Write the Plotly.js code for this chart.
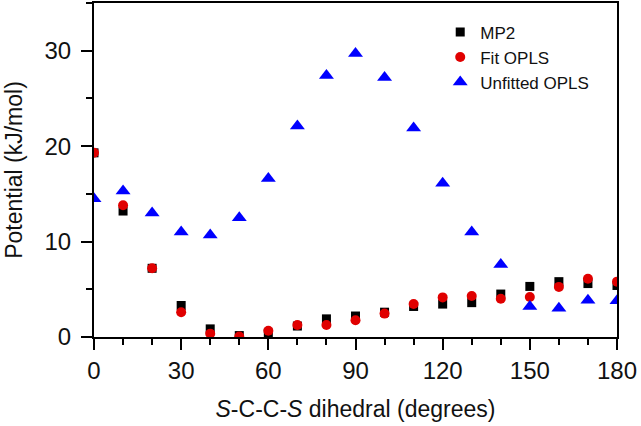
<!DOCTYPE html>
<html>
<head>
<meta charset="utf-8">
<script src="https://cdn.plot.ly/plotly-3.0.1.min.js"></script>
<style>html,body{margin:0;padding:0;background:#fff;}#chart{width:641px;height:426px;}</style>
</head>
<body>
<div id="chart"></div>
<script>
const dihedral = [0,10,20,30,40,50,60,70,80,90,100,110,120,130,140,150,160,170,180];
const mp2 = [19.3,13.2,7.2,3.3,0.85,0.15,0.4,1.15,1.9,2.2,2.6,3.2,3.45,3.6,4.5,5.3,5.8,5.6,5.4];
const fitOpls = [19.3,13.8,7.2,2.6,0.35,0.05,0.65,1.25,1.25,1.75,2.45,3.45,4.15,4.3,4.0,4.2,5.25,6.1,5.8];
const unfittedOpls = [14.5,15.3,13.0,11.0,10.7,12.5,16.6,22.1,27.4,29.7,27.2,21.9,16.1,11.0,7.6,3.2,3.0,3.85,3.8];
const seriesNames = ["MP2","Fit OPLS","Unfitted OPLS"];
const xTicks = [0,30,60,90,120,150,180];
const yTicks = [0,10,20,30];

const font = "Liberation Sans, Arial, sans-serif";
const traces = [
  {x: dihedral, y: mp2, name: seriesNames[0], type: "scatter", mode: "markers",
   marker: {symbol: "square", size: 9, color: "#000000"}},
  {x: dihedral, y: fitOpls, name: seriesNames[1], type: "scatter", mode: "markers",
   marker: {symbol: "circle", size: 10, color: "#e00000"}},
  {x: dihedral, y: unfittedOpls, name: seriesNames[2], type: "scatter", mode: "markers",
   marker: {symbol: "triangle-up", size: 13, color: "#0000ff"}}
];
const axisCommon = {
  showgrid: false, zeroline: false, showline: true, linecolor: "#000", linewidth: 2,
  mirror: true, ticks: "outside", ticklen: 11, tickwidth: 2, tickcolor: "#000",
  tickfont: {family: font, size: 24, color: "#111"}
};
const layout = {
  width: 641, height: 426,
  margin: {l: 94, r: 24, t: 3, b: 89},
  paper_bgcolor: "#fff", plot_bgcolor: "#fff",
  showlegend: true,
  legend: {x: 0.662, y: 0.966, xanchor: "left", yanchor: "top",
           font: {family: font, size: 17, color: "#111"}, bgcolor: "rgba(0,0,0,0)"},
  xaxis: Object.assign({}, axisCommon, {
    range: [0, 180], tickvals: xTicks, ticktext: xTicks.map(String),
    minor: {dtick: 10, ticklen: 6, tickwidth: 2, tickcolor: "#000", ticks: "outside"},
    title: {text: "<i>S</i>-C-C-<i>S</i> dihedral (degrees)", font: {family: font, size: 23, color: "#111"}, standoff: 18}
  }),
  yaxis: Object.assign({}, axisCommon, {
    range: [0, 35], tickvals: yTicks, ticktext: yTicks.map(String),
    ticklabelstandoff: 5,
    minor: {dtick: 5, ticklen: 6, tickwidth: 2, tickcolor: "#000", ticks: "outside"},
    title: {text: "Potential (kJ/mol)", font: {family: font, size: 23, color: "#111"}, standoff: 15}
  })
};
Plotly.newPlot("chart", traces, layout, {displayModeBar: false, staticPlot: true});
</script>
</body>
</html>
